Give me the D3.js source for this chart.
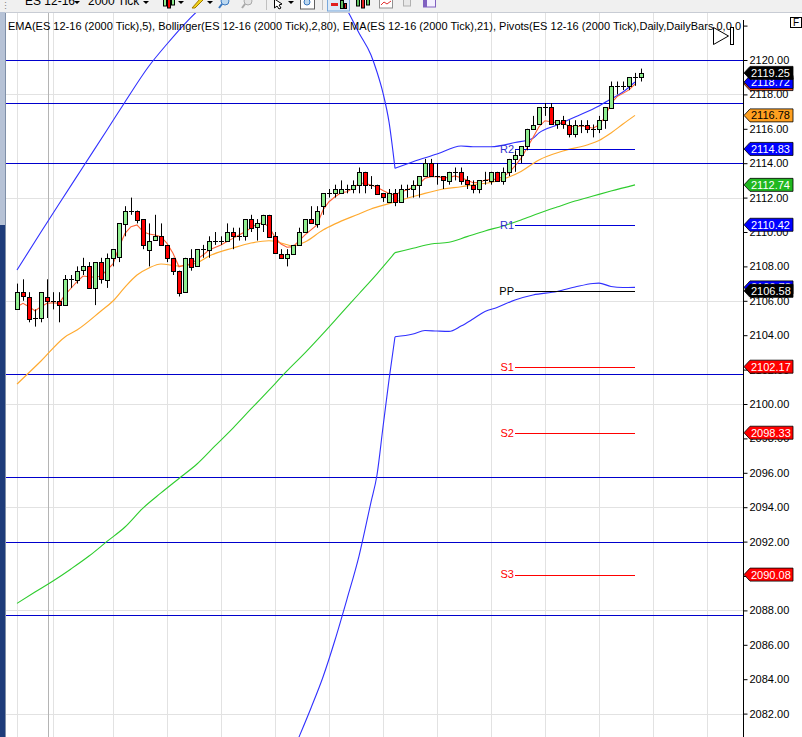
<!DOCTYPE html>
<html>
<head>
<meta charset="utf-8">
<script src="https://cdn.jsdelivr.net/npm/d3@7/dist/d3.min.js"></script>
<style>
body { margin: 0; background: #fff; overflow: hidden; }
svg { display: block; font-family: "Liberation Sans", Arial, sans-serif; }
</style>
</head>
<body>
<div id="chart"></div>
<script>
// bars (ES 12-16, 2000 tick)
const opens  = [2105.5,2106.5,2106.25,2105,2105,2106.25,2106,2106,2105.75,2107.25,2107.25,2107.75,2108,2106.75,2108.25,2107.25,2108.5,2108.5,2110.5,2111.25,2111.25,2110.75,2109,2109.5,2109.75,2109.25,2108.5,2107.75,2106.5,2108.5,2108,2109,2109,2109.5,2109.5,2109.5,2110,2109.75,2109.75,2110.75,2110.25,2110.5,2111,2109.75,2108.75,2108.5,2108.75,2109.25,2110,2110.75,2110.5,2111.5,2112.25,2112.25,2112.25,2112.5,2112.5,2112.75,2113.5,2112.75,2112.75,2112.25,2111.75,2112.25,2111.75,2112.5,2112.5,2112.75,2113.25,2114,2113.25,2113.25,2113,2113.5,2113.5,2113,2112.75,2112.5,2113,2113,2113.5,2113,2113.5,2114.25,2114.5,2115,2116,2116.25,2117.25,2117.25,2116.25,2116.5,2116.25,2115.75,2116.25,2116.25,2116,2116,2116.5,2117.25,2118.5,2118.5,2118.5,2119,2119];
const highs  = [2107,2107.25,2106.5,2105.5,2106.5,2107.25,2106.5,2106.5,2107.5,2107.5,2108,2108.5,2108.25,2108.25,2108.5,2108.75,2109,2110.5,2111.5,2112,2111.25,2110.75,2110.5,2111,2110.5,2109.25,2108.5,2107.75,2108.5,2109,2109,2109.25,2109.75,2110,2109.75,2110.5,2110.25,2110.25,2110.75,2111,2110.75,2111,2111,2110,2109,2109,2109.25,2110.25,2110.75,2111.5,2111.5,2112.25,2112.5,2112.75,2113,2112.75,2113,2113.75,2113.5,2113.25,2112.75,2112.25,2112.5,2112.5,2112.75,2112.75,2113,2113.25,2114.25,2114.25,2114,2113.25,2113.5,2113.75,2113.75,2113.25,2113,2113,2113.5,2113.5,2113.5,2113.75,2114.25,2114.75,2115,2116,2116.75,2117.25,2117.5,2117.5,2116.5,2116.75,2116.5,2116.5,2116.5,2116.5,2116.25,2116.75,2117.25,2118.75,2118.75,2118.75,2119,2119.25,2119.5];
const lows   = [2105.5,2106,2104.75,2104.5,2104.75,2105,2105.5,2104.75,2105.75,2106.75,2107,2107.5,2106.75,2105.75,2107,2106.75,2108,2108.25,2109.75,2111,2110.5,2109,2108,2109.5,2109.25,2108.25,2107.5,2106.25,2106.5,2107.75,2108,2108.5,2108.5,2109.25,2109.25,2109.5,2109,2109.5,2109.5,2110,2109.5,2110,2109.75,2108.75,2108.5,2108,2108.75,2109.25,2110,2110.5,2110.25,2111,2112,2112,2112.25,2112.25,2112.25,2112.25,2112.25,2112.5,2112.25,2111.75,2111.75,2111.5,2111.75,2112,2112,2112,2113.25,2113.25,2112.75,2112.5,2112.75,2113,2112.75,2112.5,2112.25,2112.25,2112.75,2112.75,2113,2112.75,2113.25,2113.5,2114,2114.75,2116,2116.25,2116.75,2116.25,2116,2116,2115.5,2115.5,2115.75,2115.75,2115.5,2115.75,2116,2117.25,2118,2118.25,2118.25,2118.5,2118.75];
const closes = [2106.5,2106.25,2105,2105,2106.5,2106,2106,2105.75,2107.25,2107.25,2107.75,2108,2106.75,2108.25,2107.25,2108.5,2109,2110.5,2111.25,2111.25,2110.75,2109.25,2109.5,2109.75,2109.25,2108.5,2107.75,2106.5,2108.5,2108,2109,2109,2109.5,2109.5,2109.5,2110,2109.75,2109.75,2110.75,2110.25,2110.5,2111,2109.75,2108.75,2108.5,2108.75,2109.25,2110,2110.75,2110.5,2111.25,2112.25,2112.25,2112.5,2112.5,2112.5,2112.75,2113.5,2112.75,2112.75,2112.25,2112,2112.25,2111.75,2112.5,2112.5,2112.75,2113.25,2114,2113.25,2113.25,2113,2113.5,2113.5,2113,2112.75,2112.5,2113,2113,2113.5,2113,2113.5,2114.25,2114.5,2115,2116,2116.25,2117.25,2117.25,2116.25,2116.5,2116.25,2115.75,2116.25,2116.25,2116,2116,2116.5,2117.25,2118.5,2118.5,2118.5,2119,2119,2119.25];

// EMA(5), one value per bar 1..104
const ema5 = [2105.66,2105.85,2105.66,2105.42,2105.66,2105.85,2105.89,2105.85,2106.34,2106.73,2107.11,2107.44,2107.40,2107.37,2107.44,2107.79,2108.14,2109.11,2109.92,2110.31,2110.41,2110.02,2109.88,2109.83,2109.73,2109.34,2108.76,2107.98,2108.08,2108.14,2108.41,2108.66,2108.95,2109.10,2109.24,2109.45,2109.63,2109.83,2110.02,2110.23,2110.47,2110.54,2110.31,2109.69,2109.30,2109.11,2109.15,2109.49,2109.83,2110.12,2110.41,2111.28,2111.76,2112.05,2112.28,2112.34,2112.54,2112.83,2112.83,2112.73,2112.60,2112.41,2112.24,2112.15,2112.34,2112.44,2112.60,2112.79,2113.12,2113.22,2113.22,2113.16,2113.16,2113.26,2113.16,2113.02,2112.87,2112.87,2113.02,2113.06,2113.06,2113.22,2113.45,2113.84,2114.28,2114.88,2115.49,2116.12,2116.47,2116.41,2116.35,2116.32,2116.16,2116.12,2116.16,2116.12,2116.03,2116.22,2116.70,2117.48,2117.87,2118.06,2118.26,2118.60];

// EMA(21) and Bollinger(2,80), [bar, price]
const ema21 = [[1,2101.16],[5,2102.50],[9,2103.90],[11,2104.30],[15,2105.41],[17,2105.99],[19,2106.80],[21,2107.50],[23,2107.91],[25,2108.14],[28,2108.02],[31,2108.20],[33,2108.60],[37,2109.07],[40,2109.36],[43,2109.49],[45,2109.36],[47,2109.19],[49,2109.42],[52,2110.12],[54,2110.47],[58,2111.05],[60,2111.34],[63,2111.65],[65,2111.86],[68,2112.15],[72,2112.50],[75,2112.63],[78,2112.79],[80,2112.88],[83,2113.20],[85,2113.52],[87,2113.98],[88,2114.19],[92,2114.71],[96,2115.06],[98,2115.32],[100,2115.76],[102,2116.28],[104,2116.78]];
const bbUpper = [[1,2107.79],[5,2110.00],[8,2111.63],[12,2113.78],[16,2115.93],[19,2117.56],[23,2119.65],[26,2120.93],[29,2122.12],[32,2123.14],[36,2124.19],[45,2125.35],[52,2124.53],[56,2122.91],[58,2121.57],[60,2120.29],[61,2119.30],[62,2118.08],[63,2116.40],[64,2113.70],[67,2114.09],[71,2114.53],[75,2115.00],[77,2114.96],[80,2114.96],[84,2115.20],[87,2115.45],[88,2115.76],[91,2116.22],[94,2116.69],[98,2117.33],[100,2117.73],[102,2118.14],[104,2118.72]];
const bbMiddle = [[1,2088.41],[4,2089.07],[7,2089.71],[10,2090.41],[13,2091.16],[16,2092.01],[19,2092.85],[22,2093.95],[25,2094.83],[28,2095.67],[31,2096.51],[34,2097.56],[37,2098.60],[40,2099.71],[43,2100.81],[46,2101.92],[49,2102.97],[52,2104.09],[55,2105.25],[58,2106.41],[61,2107.57],[64,2108.80],[67,2109.05],[70,2109.30],[73,2109.40],[76,2109.73],[79,2110.06],[82,2110.35],[85,2110.70],[88,2111.09],[91,2111.45],[94,2111.80],[97,2112.09],[100,2112.38],[104,2112.74]];
const bbLower = [[45,2078.20],[48,2080.64],[50,2082.33],[52,2084.13],[54,2086.28],[56,2088.66],[58,2091.16],[60,2094.30],[61,2095.87],[62,2098.66],[63,2101.40],[64,2103.91],[67,2104.07],[69,2104.27],[71,2104.24],[73,2104.22],[75,2104.53],[77,2104.94],[79,2105.38],[81,2105.61],[84,2106.05],[87,2106.34],[91,2106.54],[94,2106.80],[97,2107.01],[98,2107.03],[100,2106.83],[102,2106.77],[104,2106.78]];
const breakBar = 64;

// daily pivots
const pivotNames  = ["R2", "R1", "PP", "S1", "S2", "S3"];
const pivotValues = [2114.83, 2110.42, 2106.58, 2102.17, 2098.33, 2090.08];
const pivotColors = ["#0000d8", "#0000d8", "#000000", "#ff0000", "#ff0000", "#ff0000"];
const pivotFrom = 84, pivotTo = 104;

// drawn horizontal lines
const hLines = [2120.0, 2117.5, 2114.0, 2101.75, 2095.75, 2092.0, 2087.75];

// grid
const yTicks = d3.range(2082, 2123, 2);
const yGrid = [2082, 2088, 2094, 2100, 2106, 2112, 2118];
const xGrid = [1, 7, 17, 26, 35, 44, 53, 62, 71, 80, 89, 98, 107, 116];
const sessionBar = 6.1;

const titleText = "EMA(ES 12-16 (2000 Tick),5), Bollinger(ES 12-16 (2000 Tick),2,80), EMA(ES 12-16 (2000 Tick),21), Pivots(ES 12-16 (2000 Tick),Daily,DailyBars,0,0,0";


const W = 802, H = 737;
const plot = {left: 6, top: 12, right: 743, bottom: H};

const x = d3.scaleLinear().domain([1, 105]).range([17, 641]);
const y = d3.scaleLinear().domain([2100, 2120]).range([404, 60]);

const svg = d3.select("#chart").append("svg")
    .attr("width", W).attr("height", H);

svg.append("defs").append("clipPath").attr("id", "plotclip")
  .append("rect")
    .attr("x", plot.left).attr("y", plot.top)
    .attr("width", plot.right - plot.left).attr("height", plot.bottom - plot.top);

const g = svg.append("g").attr("clip-path", "url(#plotclip)");
const px = v => Math.round(v) + 0.5;

// grid
g.selectAll(".vg").data(xGrid).enter().append("line")
    .attr("x1", d => px(x(d))).attr("x2", d => px(x(d)))
    .attr("y1", plot.top).attr("y2", plot.bottom)
    .style("stroke", "#e2e2e2");
g.selectAll(".hg").data(yGrid).enter().append("line")
    .attr("x1", plot.left).attr("x2", plot.right)
    .attr("y1", d => px(y(d))).attr("y2", d => px(y(d)))
    .style("stroke", "#e2e2e2");
g.append("line")
    .attr("x1", px(x(sessionBar))).attr("x2", px(x(sessionBar)))
    .attr("y1", plot.top).attr("y2", plot.bottom)
    .style("stroke", "#b4b4b4");

// title
svg.append("text").attr("x", 8).attr("y", 30)
    .attr("textLength", 733).attr("lengthAdjust", "spacing")
    .style("font-size", "11px").style("fill", "#000")
    .text(titleText);

// drawn lines
g.selectAll(".hl").data(hLines).enter().append("line")
    .attr("x1", plot.left).attr("x2", plot.right)
    .attr("y1", d => px(y(d))).attr("y2", d => px(y(d)))
    .style("stroke", "#0000cc").style("stroke-width", 1.2);

// indicator lines
const smooth = d3.line().x(d => x(d[0])).y(d => y(d[1])).curve(d3.curveMonotoneX);
const straight = d3.line().x(d => x(d[0])).y(d => y(d[1]));

function drawBand(pts, color) {
    [pts.filter(d => d[0] <= breakBar), pts.filter(d => d[0] >= breakBar)].forEach(seg => {
        if (seg.length < 2) return;
        g.append("path").attr("d", smooth(seg))
            .style("fill", "none").style("stroke", color).style("stroke-width", 1.1);
    });
}
drawBand(bbMiddle, "#2ecc2e");
drawBand(bbUpper, "#3030ff");
drawBand(bbLower, "#3030ff");

g.append("path").attr("d", smooth(ema21))
    .style("fill", "none").style("stroke", "#ffaa30").style("stroke-width", 1.2);
g.append("path").attr("d", straight(ema5.map((v, i) => [i + 1, v])))
    .style("fill", "none").style("stroke", "#ff6235").style("stroke-width", 1.1);

// pivots
pivotValues.forEach((v, i) => {
    g.append("line")
        .attr("x1", x(pivotFrom)).attr("x2", x(pivotTo))
        .attr("y1", px(y(v))).attr("y2", px(y(v)))
        .style("stroke", pivotColors[i]);
    g.append("text")
        .attr("x", x(pivotFrom) - 1).attr("y", y(v)).attr("dy", "0.35em")
        .attr("text-anchor", "end")
        .style("font-size", "11px").style("fill", i < 2 ? "#3030d0" : pivotColors[i])
        .text(pivotNames[i]);
});

// candles
const bars = closes.map((c, i) => ({i: i + 1, o: opens[i], h: highs[i], l: lows[i], c: c}));
const cg = g.selectAll(".bar").data(bars).enter().append("g");
cg.append("line")
    .attr("x1", d => x(d.i) + 0.5).attr("x2", d => x(d.i) + 0.5)
    .attr("y1", d => y(d.h)).attr("y2", d => y(d.l))
    .style("stroke", "#000");
cg.filter(d => d.o !== d.c).append("rect")
    .attr("x", d => x(d.i) - 1.5).attr("width", 4)
    .attr("y", d => Math.round(y(Math.max(d.o, d.c))) + 0.5)
    .attr("height", d => Math.max(1, Math.round(Math.abs(y(d.o) - y(d.c)))))
    .style("fill", d => d.c > d.o ? "#90ee90" : "#ff0000")
    .style("stroke", "#000");
cg.filter(d => d.o === d.c).append("line")
    .attr("x1", d => x(d.i) - 2).attr("x2", d => x(d.i) + 3)
    .attr("y1", d => px(y(d.c))).attr("y2", d => px(y(d.c)))
    .style("stroke", "#000");

// price axis
const axis = svg.append("g").attr("transform", `translate(${plot.right + 0.5},0)`)
    .call(d3.axisRight(y).tickValues(yTicks).tickSize(4).tickPadding(2)
        .tickFormat(d => d > 2120 ? "" : d.toFixed(2)));
axis.select(".domain").remove();
axis.selectAll("text").style("font-size", "11px").style("font-family", "'Liberation Sans', Arial, sans-serif").style("fill", "#000");
axis.selectAll("line").style("stroke", "#000");
svg.append("line").attr("x1", plot.right + 0.5).attr("x2", plot.right + 0.5)
    .attr("y1", 20).attr("y2", H).style("stroke", "#000");

// value flags on the axis
const flags = [
    {v: ema5[ema5.length - 1], fill: "#ff5020", text: "#fff"},
    {v: bbUpper[bbUpper.length - 1][1], fill: "#0000ff", text: "#fff"},
    {v: closes[closes.length - 1], fill: "#000000", text: "#fff"},
    {v: ema21[ema21.length - 1][1], fill: "#ffa020", text: "#000"},
    {v: pivotValues[0], fill: "#0000ff", text: "#fff"},
    {v: bbMiddle[bbMiddle.length - 1][1], fill: "#20b820", text: "#fff"},
    {v: pivotValues[1], fill: "#0000ff", text: "#fff"},
    {v: bbLower[bbLower.length - 1][1], fill: "#0000ff", text: "#fff"},
    {v: pivotValues[2], fill: "#000000", text: "#fff"},
    {v: pivotValues[3], fill: "#ff0000", text: "#fff"},
    {v: pivotValues[4], fill: "#ff0000", text: "#fff"},
    {v: pivotValues[5], fill: "#ff0000", text: "#fff"}
];
const fg = svg.selectAll(".flag").data(flags).enter().append("g");
fg.append("path")
    .attr("d", d => { const cy = y(d.v);
        return `M744,${cy} L750,${cy - 6.5} L793,${cy - 6.5} L793,${cy + 6.5} L750,${cy + 6.5} Z`; })
    .style("fill", d => d.fill).style("stroke", "#000").style("stroke-width", 0.8);
fg.append("text")
    .attr("x", 751).attr("y", d => y(d.v)).attr("dy", "0.36em")
    .style("font-size", "11px").style("fill", d => d.text)
    .text(d => d.v.toFixed(2));

// scroll-to-end button and "F" box
svg.append("path").attr("d", "M713.5,27.5 L728.5,36 L713.5,44.5 Z")
    .style("fill", "#fff").style("stroke", "#000");
svg.append("rect").attr("x", 730.5).attr("y", 27.5).attr("width", 3).attr("height", 17)
    .style("fill", "#fff").style("stroke", "#000");
svg.append("rect").attr("x", 790.5).attr("y", 17.5).attr("width", 11).attr("height", 10)
    .style("fill", "#fff").style("stroke", "#000");
svg.append("text").attr("x", 793).attr("y", 26).style("font-size", "10px").text("F");

// window frame, toolbar
svg.append("rect").attr("x", 0).attr("y", 12).attr("width", 5).attr("height", 213).style("fill", "#b6c2d6");
svg.append("rect").attr("x", 0).attr("y", 225).attr("width", 5).attr("height", H - 225).style("fill", "#1e3c7a");
svg.append("line").attr("x1", 5.5).attr("x2", 5.5).attr("y1", 12).attr("y2", H).style("stroke", "#8090a8");

const tb = svg.append("g");
tb.append("rect").attr("width", W).attr("height", 12).style("fill", "#f0f0f0");
tb.append("line").attr("x1", 5).attr("x2", W).attr("y1", 12.5).attr("y2", 12.5).style("stroke", "#c8ccd4");
tb.append("text").attr("x", 25).attr("y", 5).style("font-size", "12px").text("ES 12-16");
tb.append("text").attr("x", 88).attr("y", 5).style("font-size", "12px").text("2000 Tick");
[77, 146, 181, 210, 291].forEach(ax => tb.append("path")
    .attr("d", `M${ax - 3},1 L${ax + 3},1 L${ax},4 Z`).style("fill", "#000"));
[[163, 7, "#90ee90"], [167, 9, "#ff0000"], [171, 6, "#90ee90"]].forEach(b =>
    tb.append("rect").attr("x", b[0] + 0.5).attr("y", -1).attr("width", 3).attr("height", b[1])
      .style("fill", b[2]).style("stroke", "#000"));
tb.append("path").attr("d", "M192,8 L195,8 L203,0 L200,-1 Z").style("fill", "#f2d21a").style("stroke", "#a07800");
[[225, "#bcd8f0", "#3a78c0"], [248, "#e4e4e4", "#a8a8a8"]].forEach(m => {
    tb.append("circle").attr("cx", m[0]).attr("cy", 1).attr("r", 4).style("fill", m[1]).style("stroke", m[2]);
    tb.append("line").attr("x1", m[0] - 3).attr("y1", 4).attr("x2", m[0] - 6).attr("y2", 8).style("stroke", m[2]).style("stroke-width", 2);
});
tb.append("line").attr("x1", 266.5).attr("x2", 266.5).attr("y1", 0).attr("y2", 10).style("stroke", "#c0c0c0");
tb.append("path").attr("d", "M274.5,-1 L274.5,8 L277,6 L279,9 L281,8 L279,5 L282,4 Z").style("fill", "#fff").style("stroke", "#000");
tb.append("rect").attr("x", 300.5).attr("y", -2).attr("width", 14).attr("height", 11).style("fill", "#fff").style("stroke", "#606060");
tb.append("circle").attr("cx", 307).attr("cy", 2).attr("r", 3).style("fill", "#bcd8f0").style("stroke", "#3a78c0");
tb.append("line").attr("x1", 322.5).attr("x2", 322.5).attr("y1", 0).attr("y2", 10).style("stroke", "#c0c0c0");
tb.append("rect").attr("x", 327.5).attr("y", -2).attr("width", 22).attr("height", 13).style("fill", "#dceaf8").style("stroke", "#78a8dc");
tb.append("rect").attr("x", 331).attr("y", 3).attr("width", 7).attr("height", 3).style("fill", "#e02020");
tb.append("rect").attr("x", 340.5).attr("y", 0.5).attr("width", 3).attr("height", 8).style("fill", "#60c060").style("stroke", "#000");
tb.append("rect").attr("x", 344.5).attr("y", 3.5).attr("width", 2).attr("height", 5).style("fill", "#e02020").style("stroke", "#000");
[[356, 7, "#60c060"], [361, 9, "#e02020"], [366, 6, "#60c060"]].forEach(b =>
    tb.append("rect").attr("x", b[0] + 0.5).attr("y", -1).attr("width", 3).attr("height", b[1])
      .style("fill", b[2]).style("stroke", "#000"));
tb.append("rect").attr("x", 379.5).attr("y", -2).attr("width", 13).attr("height", 10).style("fill", "#fff").style("stroke", "#909090");
tb.append("path").attr("d", "M381,5 L384,2 L387,4 L391,1").style("fill", "none").style("stroke", "#e03030");
tb.append("rect").attr("x", 403.5).attr("y", -2).attr("width", 7).attr("height", 8).style("fill", "#e8e8e8").style("stroke", "#b0b0b0");
tb.append("rect").attr("x", 423.5).attr("y", -2).attr("width", 12).attr("height", 9).style("fill", "#f4f0ff").style("stroke", "#8060c0");
tb.append("rect").attr("x", 424).attr("y", -2).attr("width", 3).attr("height", 9).style("fill", "#8060c0");
tb.append("text").attr("x", 1).attr("y", 9).style("font-size", "9px").style("fill", "#808080").text("⋮");
</script>
</body>
</html>
